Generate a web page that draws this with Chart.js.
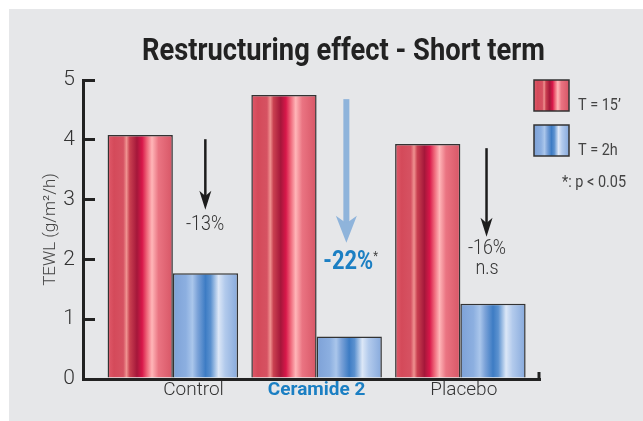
<!DOCTYPE html>
<html>
<head>
<meta charset="utf-8">
<script src="https://cdn.jsdelivr.net/npm/chart.js@4.4.1/dist/chart.umd.min.js"></script>
<style>
  html, body { margin: 0; padding: 0; background: #fff; }
  canvas { display: block; }
</style>
</head>
<body>
<canvas id="myChart" width="643" height="421"></canvas>
<script>
const groups = ['Control', 'Ceramide 2', 'Placebo'];
const groupLabelPos = [0.144, 1.0, 2.024];
const seriesNames = ['T = 15’', 'T = 2h'];
const t15 = [4.08, 4.75, 3.93];
const t2h = [1.77, 0.71, 1.26];
const changes = ['-13%', '-22%', '-16%'];
const notes = ['', '*', 'n.s'];
const sigNote = '*: p < 0.05';

const FONT = "Roboto, 'Liberation Sans', sans-serif";
const catPct = 0.908;
// the tick labels sit off-centre, and Chart.js measures the bar slot from the
// smallest gap between ticks too, so scale the percentage back up
let minGap = 1;
for (let i = 1; i < groupLabelPos.length; i++) minGap = Math.min(minGap, groupLabelPos[i] - groupLabelPos[i - 1]);

// vertical stripe shading of the bars
const redStops = [[0, '#e05a6a'], [0.1, '#d44a5a'], [0.24, '#d65262'], [0.29, '#ef9290'], [0.34, '#c94050'],
  [0.45, '#a5173a'], [0.53, '#d8174a'], [0.6, '#ee6478'], [0.68, '#ffb6b8'], [0.78, '#ea7482'], [1, '#d75666']];
const blueStops = [[0, '#7da1d7'], [0.2, '#8cafe0'], [0.3, '#aac6eb'], [0.38, '#7ba2d8'], [0.5, '#3d7cc4'],
  [0.58, '#5b91cf'], [0.7, '#dce7f7'], [0.8, '#b2caec'], [1, '#86a9dc']];

function makeGrad(g, left, w, stops) {
  const grad = g.createLinearGradient(left, 0, left + w, 0);
  stops.forEach(s => grad.addColorStop(s[0], s[1]));
  return grad;
}

function barFill(stops) {
  return function (c) {
    const chart = c.chart;
    if (!chart.chartArea) return stops[0][1];
    const xs = chart.scales.x;
    const step = xs.getPixelForValue(1) - xs.getPixelForValue(0);
    const chunk = step * catPct / 2;
    const left = xs.getPixelForValue(c.dataIndex) - chunk + c.datasetIndex * chunk;
    return makeGrad(chart.ctx, left, chunk, stops);
  };
}

// text squeezed sideways to look like the condensed face of the original
function narrowText(g, text, x, y, font, squeeze, align) {
  g.save();
  g.font = font;
  const w = g.measureText(text).width * squeeze;
  let left = x;
  if (align === 'center') left = x - w / 2;
  if (align === 'right') left = x - w;
  g.translate(left, y);
  g.scale(squeeze, 1);
  g.textAlign = 'left';
  g.fillText(text, 0, 0);
  g.restore();
  return w;
}

// annotation anchors in data units
const arrows = [
  { x: 0.226, from: 4.01, to: 2.83, color: '#1c1c1c', shaft: 2.5, head: 12, len: 19 },
  { x: 1.207, from: 4.68, to: 2.28, color: '#8fb4db', shaft: 6, head: 21, len: 27 },
  { x: 2.182, from: 3.86, to: 2.38, color: '#1c1c1c', shaft: 2.5, head: 12, len: 19 }
];
const labelAt = [
  { x: 0.224, y: 2.58 },
  { x: 1.22, y: 1.95 },
  { x: 2.185, y: 2.17 }
];

const decor = {
  id: 'decor',
  beforeDraw(chart) {
    const g = chart.ctx;
    g.save();
    g.fillStyle = '#ffffff';
    g.fillRect(0, 0, chart.width, chart.height);
    g.fillStyle = '#e6e7e9';
    g.fillRect(9, 9, chart.width - 9, chart.height - 9);
    g.restore();
  },
  afterDraw(chart) {
    const g = chart.ctx;
    const xs = chart.scales.x, ys = chart.scales.y;
    g.save();
    // title, stretched to the width of the original
    const title = 'Restructuring effect - Short term';
    g.font = 'bold 32px ' + FONT;
    const squeeze = 403 / g.measureText(title).width;
    g.fillStyle = '#222';
    g.textBaseline = 'alphabetic';
    narrowText(g, title, 343.5, 60, 'bold 32px ' + FONT, squeeze, 'center');

    // end tick of the x axis
    g.strokeStyle = '#222';
    g.lineWidth = 3;
    g.beginPath();
    g.moveTo(chart.chartArea.right - 1, chart.chartArea.bottom + 1);
    g.lineTo(chart.chartArea.right - 1, chart.chartArea.bottom - 7);
    g.stroke();

    // arrows
    arrows.forEach(a => {
      const x = xs.getPixelForValue(a.x);
      const y1 = ys.getPixelForValue(a.from);
      const y2 = ys.getPixelForValue(a.to);
      g.strokeStyle = a.color;
      g.fillStyle = a.color;
      g.lineWidth = a.shaft;
      g.beginPath();
      g.moveTo(x, y1);
      g.lineTo(x, y2 - a.len * 0.6);
      g.stroke();
      g.beginPath();
      g.moveTo(x, y2);
      g.lineTo(x - a.head / 2, y2 - a.len);
      g.lineTo(x, y2 - a.len * 0.72);
      g.lineTo(x + a.head / 2, y2 - a.len);
      g.closePath();
      g.fill();
    });

    // change labels
    g.textBaseline = 'middle';
    changes.forEach((t, i) => {
      const x = xs.getPixelForValue(labelAt[i].x);
      const y = ys.getPixelForValue(labelAt[i].y);
      if (i === 1) {
        g.fillStyle = '#1b7fc3';
        const w = narrowText(g, t, x, y, 'bold 26px ' + FONT, 0.84, 'center');
        g.fillStyle = '#444';
        narrowText(g, notes[i], x + w / 2, y - 6, '13px ' + FONT, 0.85, 'left');
      } else {
        g.fillStyle = '#333';
        narrowText(g, t, x, y, '300 21px ' + FONT, 0.85, 'center');
        if (notes[i]) narrowText(g, notes[i], x, y + 20, '300 21px ' + FONT, 0.85, 'center');
      }
    });

    // legend
    const boxes = [[534, 80, redStops], [534, 125, blueStops]];
    g.textBaseline = 'alphabetic';
    boxes.forEach((b, i) => {
      g.fillStyle = makeGrad(g, b[0], 35, b[2]);
      g.fillRect(b[0], b[1], 35, 31);
      g.strokeStyle = '#333';
      g.lineWidth = 1.5;
      g.strokeRect(b[0], b[1], 35, 31);
      g.fillStyle = '#444';
      narrowText(g, seriesNames[i], 578, b[1] + 30, '17px ' + FONT, 0.85, 'left');
    });
    narrowText(g, sigNote, 562, 187, '17px ' + FONT, 0.85, 'left');
    g.restore();
  }
};

new Chart(document.getElementById('myChart'), {
  type: 'bar',
  data: {
    datasets: [
      {
        label: seriesNames[0],
        data: t15.map((v, i) => ({ x: i, y: v })),
        backgroundColor: barFill(redStops),
        borderColor: '#333',
        borderWidth: 1.5
      },
      {
        label: seriesNames[1],
        data: t2h.map((v, i) => ({ x: i, y: v })),
        backgroundColor: barFill(blueStops),
        borderColor: '#333',
        borderWidth: 1.5
      }
    ]
  },
  options: {
    responsive: false,
    animation: false,
    categoryPercentage: catPct / minGap,
    barPercentage: 1,
    layout: { padding: { top: 80, right: 103, left: 34, bottom: 0 } },
    plugins: {
      legend: { display: false },
      tooltip: { enabled: false },
      title: { display: false }
    },
    scales: {
      x: {
        type: 'linear',
        offset: false,
        min: -0.625,
        max: 2.554,
        afterFit: s => { s.height = 42; },
        afterBuildTicks: s => { s.ticks = groupLabelPos.map(v => ({ value: v })); },
        grid: { display: false, drawTicks: false, offset: false },
        border: { display: true, color: '#222', width: 3 },
        ticks: {
          autoSkip: false,
          maxRotation: 0,
          padding: 0,
          callback: (v, i) => groups[i],
          color: c => (c.index === 1 ? '#1b7fc3' : '#333'),
          font: c => (c.index === 1
            ? { family: FONT, size: 19, weight: 'bold' }
            : { family: FONT, size: 19, weight: '300' })
        }
      },
      y: {
        min: 0,
        max: 5,
        afterFit: s => { s.width = 49; },
        grid: { drawOnChartArea: false, drawTicks: true, tickLength: -12, lineWidth: 3, color: '#222' },
        border: { display: true, color: '#222', width: 3 },
        ticks: {
          stepSize: 1,
          padding: 20,
          color: '#333',
          font: { family: FONT, size: 21, weight: '300' }
        },
        title: {
          display: true,
          text: 'TEWL (g/m²/h)',
          color: '#444',
          font: { family: FONT, size: 17, weight: '300' },
          padding: { top: 7, bottom: 0 }
        }
      }
    }
  },
  plugins: [decor]
});
</script>
</body>
</html>
